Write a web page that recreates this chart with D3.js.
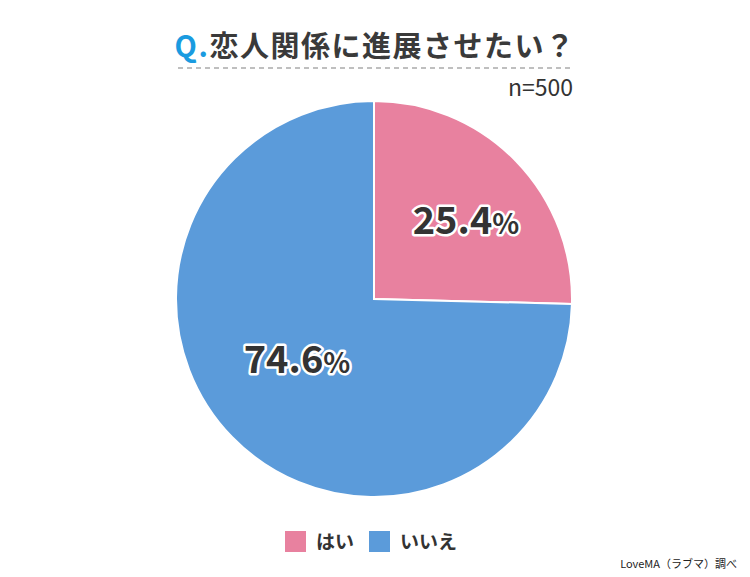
<!DOCTYPE html>
<html><head><meta charset="utf-8">
<script src="https://cdn.jsdelivr.net/npm/d3@7"></script>
<style>body{margin:0;background:#fff}</style>
</head><body>
<svg id="c" width="750" height="577"></svg>
<script>
const categories = ["はい", "いいえ"];
const values = [25.4, 74.6];
const labels = ["25.4", "74.6"];
const colors = ["#E8819F", "#5B9BDA"];
const titleQ = "Q.";
const titleText = "恋人関係に進展させたい？";
const sampleText = "n=500";
const sourceText = "LoveMA（ラブマ）調べ";

const svg = d3.select("#c");
const font = "'Noto Sans CJK JP','Noto Sans',sans-serif";
const cx = 374, cy = 299, r = 198;

// title
const t = svg.append("text").attr("x", 375).attr("y", 57).attr("text-anchor", "middle")
  .attr("font-family", font).attr("font-weight", "bold").attr("font-size", 29)
  .attr("letter-spacing", 1.5).attr("fill", "#3a3a3a");
t.append("tspan").attr("fill", "#1A9BE0").text(titleQ);
t.append("tspan").text(titleText);

svg.append("line").attr("x1", 178).attr("x2", 573).attr("y1", 68).attr("y2", 68)
  .attr("stroke", "#aaa").attr("stroke-width", 1.5).attr("stroke-dasharray", "5,4");

svg.append("text").attr("x", 573).attr("y", 96).attr("text-anchor", "end")
  .attr("font-family", font).attr("font-size", 23).attr("fill", "#333").text(sampleText);

const pie = d3.pie().sort(null).value(d => d)(values);
const arc = d3.arc().innerRadius(0).outerRadius(r);
const g = svg.append("g").attr("transform", `translate(${cx},${cy})`);
g.selectAll("path").data(pie).join("path").attr("d", arc)
  .attr("fill", (d, i) => colors[i]).attr("stroke", "#fff").attr("stroke-width", 2);

const labelPos = [[92, -78], [-77, 61]];
pie.forEach((d, i) => {
  const tx = g.append("text").attr("x", labelPos[i][0]).attr("y", labelPos[i][1] + 13)
    .attr("text-anchor", "middle").attr("font-family", font).attr("font-weight", "bold")
    .attr("fill", "#333").attr("stroke", "#fff").attr("stroke-width", 5)
    .attr("stroke-linejoin", "round").attr("paint-order", "stroke");
  tx.append("tspan").attr("font-size", 38).text(labels[i]);
  tx.append("tspan").attr("font-size", 28).text("%");
});

// legend
const legX = [285, 369];
categories.forEach((c, i) => {
  svg.append("rect").attr("x", legX[i]).attr("y", 531).attr("width", 21).attr("height", 21).attr("fill", colors[i]);
  svg.append("text").attr("x", legX[i] + 31).attr("y", 549).attr("font-family", font)
    .attr("font-weight", "bold").attr("font-size", 19).attr("fill", "#333").text(c);
});

svg.append("text").attr("x", 737).attr("y", 568).attr("text-anchor", "end")
  .attr("font-family", font).attr("font-size", 11).attr("fill", "#222").text(sourceText);
</script>
</body></html>
